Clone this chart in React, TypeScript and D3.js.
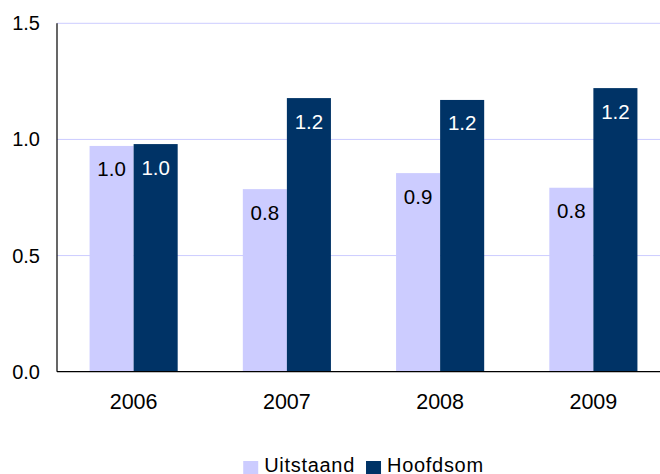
import React, { useEffect, useRef } from "react";
import * as d3 from "d3";

const years = ["2006", "2007", "2008", "2009"];
const seriesNames = ["Uitstaand", "Hoofdsom"];
const uitstaand = [0.972, 0.786, 0.855, 0.792];
const hoofdsom = [0.98, 1.178, 1.17, 1.221];
const yTicks = [0, 0.5, 1.0, 1.5];
const colors = ["#ccccff", "#003366"];
const labelColors = ["#000000", "#ffffff"];

const W = 660;
const H = 474;
const FONT = "Arial, 'Liberation Sans', Helvetica, sans-serif";

export default function App() {
  const ref = useRef<SVGSVGElement>(null);

  useEffect(() => {
    document.body.style.margin = "0";
    const svg = d3.select(ref.current);
    svg.selectAll("*").remove();

    const left = 57;
    const right = 670; // plot runs past the window edge
    const top = 23.3;
    const bottom = 371.7;

    const x0 = d3.scaleBand().domain(years).range([left, right]).paddingInner(0.425).paddingOuter(0.2125);
    const x1 = d3.scaleBand().domain(seriesNames).range([0, x0.bandwidth()]);
    const y = d3.scaleLinear().domain([0, 1.5]).range([bottom, top]);

    const rows = years.map((yr, i) => ({ year: yr, values: [uitstaand[i], hoofdsom[i]] }));

    // gridlines
    svg.append("g")
      .selectAll("line")
      .data(yTicks.filter((t) => t > 0))
      .enter()
      .append("line")
      .attr("x1", left)
      .attr("x2", right)
      .attr("y1", (d) => y(d))
      .attr("y2", (d) => y(d))
      .attr("stroke", "#ccccff")
      .attr("stroke-width", 1);

    // bars
    const groups = svg.append("g")
      .selectAll("g")
      .data(rows)
      .enter()
      .append("g")
      .attr("transform", (d) => "translate(" + x0(d.year) + ",0)");

    groups.selectAll("rect")
      .data((d) => d.values.map((v, j) => ({ name: seriesNames[j], v, j })))
      .enter()
      .append("rect")
      .attr("x", (d) => x1(d.name)!)
      .attr("width", x1.bandwidth())
      .attr("y", (d) => y(d.v))
      .attr("height", (d) => y(0) - y(d.v))
      .attr("fill", (d) => colors[d.j]);

    groups.selectAll("text")
      .data((d) => d.values.map((v, j) => ({ name: seriesNames[j], v, j })))
      .enter()
      .append("text")
      .attr("x", (d) => x1(d.name)! + x1.bandwidth() / 2)
      .attr("y", (d) => y(d.v) + 30.5)
      .attr("text-anchor", "middle")
      .attr("font-family", FONT)
      .attr("font-size", 20.5)
      .attr("fill", (d) => labelColors[d.j])
      .text((d) => d3.format(".1f")(d.v));

    // axes lines
    svg.append("line")
      .attr("x1", left).attr("x2", left)
      .attr("y1", top).attr("y2", bottom)
      .attr("stroke", "#000").attr("stroke-width", 1.2);
    svg.append("line")
      .attr("x1", left).attr("x2", right)
      .attr("y1", bottom).attr("y2", bottom)
      .attr("stroke", "#000").attr("stroke-width", 1.2);

    // y tick labels
    svg.append("g")
      .selectAll("text")
      .data(yTicks)
      .enter()
      .append("text")
      .attr("x", 40)
      .attr("y", (d) => y(d) + 7)
      .attr("text-anchor", "end")
      .attr("font-family", FONT)
      .attr("font-size", 20)
      .attr("fill", "#000")
      .text((d) => d3.format(".1f")(d));

    // x tick labels
    svg.append("g")
      .selectAll("text")
      .data(years)
      .enter()
      .append("text")
      .attr("x", (d) => x0(d)! + x0.bandwidth() / 2)
      .attr("y", 408.5)
      .attr("text-anchor", "middle")
      .attr("font-family", FONT)
      .attr("font-size", 21.5)
      .attr("fill", "#000")
      .text((d) => d);

    // legend, centred under the plot
    const legend = svg.append("g");
    let cx = 0;
    seriesNames.forEach((name, i) => {
      legend.append("rect")
        .attr("x", cx)
        .attr("y", 461)
        .attr("width", 15)
        .attr("height", 13)
        .attr("fill", colors[i]);
      const t = legend.append("text")
        .attr("x", cx + 21)
        .attr("y", 471.5)
        .attr("font-family", FONT)
        .attr("font-size", 20)
        .attr("letter-spacing", 0.7)
        .attr("fill", "#000")
        .text(name);
      const w = (t.node() as SVGTextElement).getComputedTextLength();
      cx = cx + 21 + w + (i < seriesNames.length - 1 ? 11 : 0);
    });
    legend.attr("transform", "translate(" + ((left + right) / 2 - cx / 2) + ",0)");
  }, []);

  return <svg ref={ref} width={W} height={H} style={{ display: "block" }} />;
}
